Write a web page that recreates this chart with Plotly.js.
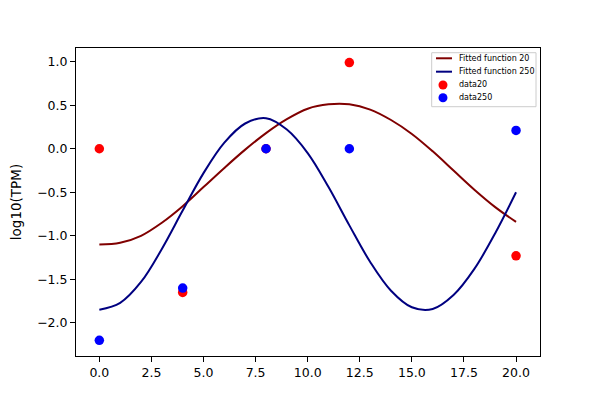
<!DOCTYPE html>
<html>
<head>
<meta charset="utf-8">
<script src="https://cdn.plot.ly/plotly-3.0.1.min.js"></script>
<style>
  html, body { margin: 0; padding: 0; background: #fff; }
  #chart { width: 600px; height: 400px; }
</style>
</head>
<body>
<div id="chart"></div>
<script>
// fitted curves at whole hours
const fitT = [0, 1, 2, 3, 4, 5, 6, 7, 8, 9, 10, 11, 12, 13, 14, 15, 16, 17, 18, 19, 20];
const fit20 = [-1.10, -1.08, -1.00, -0.85, -0.66, -0.44, -0.22, -0.01, 0.18, 0.34, 0.46,
  0.51, 0.51, 0.45, 0.33, 0.17, -0.03, -0.25, -0.47, -0.67, -0.84];
const fit250 = [-1.85, -1.77, -1.53, -1.15, -0.71, -0.28, 0.07, 0.29, 0.35, 0.22, -0.05,
  -0.44, -0.88, -1.30, -1.63, -1.82, -1.84, -1.68, -1.38, -0.97, -0.50];

// measured points
const dataT = [0, 4, 8, 12, 20];
const data20 = [0.0, -1.65, 0.0, 0.99, -1.23];
const data250 = [-2.2, -1.6, 0.0, 0.0, 0.21];

const names = ['Fitted function 20', 'Fitted function 250', 'data20', 'data250'];
const colors = ['#800000', '#000080', 'red', 'blue'];

const traces = [
  {
    x: fitT, y: fit20, name: names[0], type: 'scatter', mode: 'lines',
    line: { color: colors[0], width: 2, shape: 'spline' },
  },
  {
    x: fitT, y: fit250, name: names[1], type: 'scatter', mode: 'lines',
    line: { color: colors[1], width: 2, shape: 'spline' },
  },
  {
    x: dataT, y: data20, name: names[2], type: 'scatter', mode: 'markers',
    marker: { color: colors[2], size: 9.5 },
  },
  {
    x: dataT, y: data250, name: names[3], type: 'scatter', mode: 'markers',
    marker: { color: colors[3], size: 9.5 },
  },
];

// small matplotlib-like legend (plotly's own legend rows are too tall here)
const legRows = [0.9666, 0.9231, 0.8799, 0.8386];
const shapes = [
  {
    type: 'rect', xref: 'paper', yref: 'paper', x0: 0.7666, x1: 0.9914, y0: 0.8094, y1: 0.9847,
    line: { color: '#cccccc', width: 1 }, fillcolor: 'rgba(255,255,255,0.8)',
  },
];
const annotations = [];
names.forEach((nm, i) => {
  if (i < 2) {
    shapes.push({
      type: 'line', xref: 'paper', yref: 'paper', x0: 0.7759, x1: 0.8103, y0: legRows[i], y1: legRows[i],
      line: { color: colors[i], width: 2 },
    });
  } else {
    shapes.push({
      type: 'circle', xref: 'paper', yref: 'paper', xsizemode: 'pixel', ysizemode: 'pixel',
      xanchor: 0.7909, yanchor: legRows[i], x0: -4.5, x1: 4.5, y0: -4.5, y1: 4.5,
      line: { width: 0 }, fillcolor: colors[i],
    });
  }
  annotations.push({
    xref: 'paper', yref: 'paper', x: 0.8211, y: legRows[i], xanchor: 'left', yanchor: 'middle',
    text: nm, showarrow: false, font: { family: 'DejaVu Sans', size: 8, color: '#000' },
  });
});

const axisCommon = {
  showline: true, mirror: true, linecolor: '#000', linewidth: 1,
  ticks: 'outside', ticklen: 5, tickcolor: '#000',
  showgrid: false, zeroline: false,
  tickfont: { family: 'DejaVu Sans', size: 12.5, color: '#000' },
};

const layout = {
  width: 600, height: 400,
  margin: { l: 76, r: 60, t: 48, b: 44 },
  paper_bgcolor: '#fff', plot_bgcolor: '#fff',
  font: { family: 'DejaVu Sans', color: '#000' },
  showlegend: false,
  shapes: shapes,
  annotations: annotations,
  xaxis: Object.assign({}, axisCommon, {
    range: [-1.12, 21.15], tickvals: [0, 2.5, 5, 7.5, 10, 12.5, 15, 17.5, 20],
    ticktext: ['0.0', '2.5', '5.0', '7.5', '10.0', '12.5', '15.0', '17.5', '20.0'],
  }),
  yaxis: Object.assign({}, axisCommon, {
    range: [-2.38, 1.157], tickvals: [-2, -1.5, -1, -0.5, 0, 0.5, 1],
    ticktext: ['\u22122.0', '\u22121.5', '\u22121.0', '\u22120.5', '0.0', '0.5', '1.0'],
    title: { text: 'log10(TPM)', font: { family: 'DejaVu Sans', size: 13.5 }, standoff: 12 },
  }),
};

Plotly.newPlot('chart', traces, layout, { staticPlot: true });
</script>
</body>
</html>
